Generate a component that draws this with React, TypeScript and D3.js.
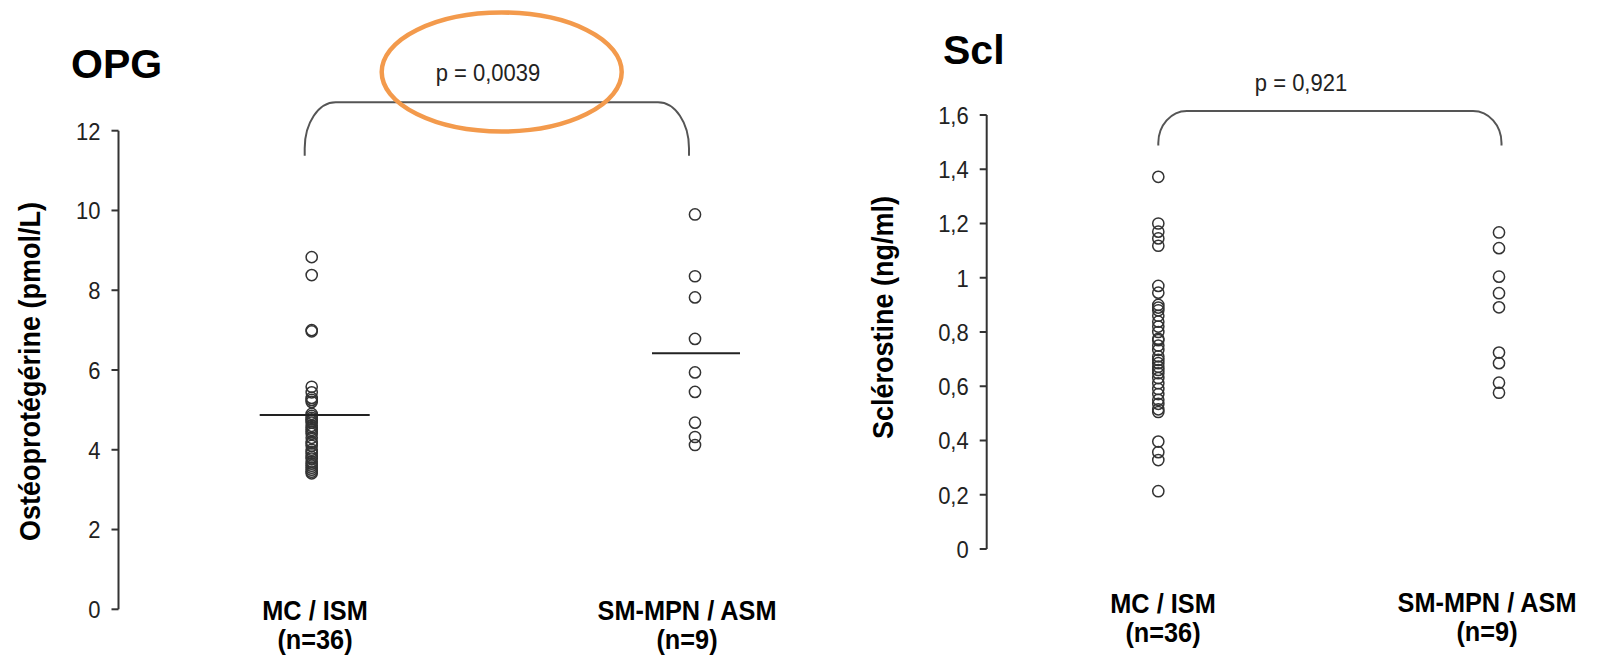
import React from "react";
import * as d3 from "d3";

// ---------- data ----------
const categories = ["MC / ISM", "SM-MPN / ASM"];
const categoryCounts = ["(n=36)", "(n=9)"];

const opgMcIsm = [
  8.83, 8.38, 7.0, 6.97, 5.58, 5.44, 5.3, 5.25, 5.2, 4.9, 4.85, 4.8, 4.76, 4.72,
  4.68, 4.6, 4.55, 4.5, 4.45, 4.4, 4.3, 4.2, 4.16, 4.1, 4.0, 3.95, 3.9, 3.82,
  3.78, 3.7, 3.65, 3.6, 3.55, 3.5, 3.45, 3.41,
];
const opgSmMpn = [9.9, 8.35, 7.82, 6.78, 5.94, 5.45, 4.68, 4.32, 4.12];
const opgMeans = [4.87, 6.42];
const opgTicks = [0, 2, 4, 6, 8, 10, 12];
const opgP = "p = 0,0039";

const sclMcIsm = [
  1.372, 1.2, 1.17, 1.145, 1.118, 0.97, 0.945, 0.9, 0.89, 0.88, 0.86, 0.838,
  0.82, 0.8, 0.775, 0.77, 0.75, 0.734, 0.71, 0.697, 0.685, 0.672, 0.66, 0.648,
  0.63, 0.611, 0.59, 0.571, 0.55, 0.535, 0.515, 0.505, 0.396, 0.357, 0.328,
  0.213,
];
const sclSmMpn = [1.167, 1.109, 1.004, 0.943, 0.891, 0.724, 0.685, 0.613, 0.576];
const sclTicks = [0, 0.2, 0.4, 0.6, 0.8, 1, 1.2, 1.4, 1.6];
const sclP = "p = 0,921";

const fmtComma = (v: number) => String(v).replace(".", ",");

const FONT = "'Liberation Sans', Arial, sans-serif";
const INK = "#222";
const SY = 1.12; // glyphs in the reference are slightly taller than wide

type PanelProps = {
  title: string;
  titleX: number;
  titleY: number;
  yLabel: string;
  yLabelX: number;
  yLabelDy: number;
  axisX: number;
  yDomain: [number, number];
  yRange: [number, number];
  ticks: number[];
  xRange: [number, number];
  groups: number[][];
  means?: number[];
  meanHalf?: [number, number][];
  pText: string;
  pX: number;
  pY: number;
  bracketY: number;
  bracketBottom: number;
  bracketRx: number;
  bracketRy: number;
  bracketDx: [number, number];
  labelCx: number[];
  labelY: number[];
};

function Panel(p: PanelProps) {
  const y = d3.scaleLinear().domain(p.yDomain).range(p.yRange);
  const x = d3.scalePoint<string>().domain(categories).range(p.xRange);
  const x0 = (x(categories[0]) as number) + p.bracketDx[0];
  const x1 = (x(categories[1]) as number) + p.bracketDx[1];
  const by = p.bracketY;
  const arcPath =
    `M${x0},${p.bracketBottom} L${x0},${by + p.bracketRy} ` +
    `A${p.bracketRx},${p.bracketRy} 0 0 1 ${x0 + p.bracketRx},${by} ` +
    `L${x1 - p.bracketRx},${by} ` +
    `A${p.bracketRx},${p.bracketRy} 0 0 1 ${x1},${by + p.bracketRy} ` +
    `L${x1},${p.bracketBottom}`;
  const [yMin, yMax] = p.yDomain;
  const midY = (y(yMin) + y(yMax)) / 2 + p.yLabelDy;
  return (
    <g>
      <text
        x={p.titleX}
        y={p.titleY}
        fontFamily={FONT}
        fontWeight="bold"
        fontSize={41}
        fill="#000"
      >
        {p.title}
      </text>
      <text
        transform={`translate(${p.yLabelX},${midY}) rotate(-90) scale(1,${SY})`}
        textAnchor="middle"
        fontFamily={FONT}
        fontWeight="bold"
        fontSize={27}
        fill="#000"
      >
        {p.yLabel}
      </text>
      {/* axis */}
      <line
        x1={p.axisX}
        x2={p.axisX}
        y1={y(yMin)}
        y2={y(yMax)}
        stroke="#333"
        strokeWidth={2}
      />
      {p.ticks.map((t) => (
        <g key={t}>
          <line
            x1={p.axisX - 7}
            x2={p.axisX}
            y1={y(t)}
            y2={y(t)}
            stroke="#333"
            strokeWidth={2}
          />
          <text
            transform={`translate(${p.axisX - 18},${y(t)}) scale(1,${SY})`}
            dy="0.36em"
            textAnchor="end"
            fontFamily={FONT}
            fontSize={22}
            fill={INK}
          >
            {fmtComma(t)}
          </text>
        </g>
      ))}
      {/* bracket & p */}
      <path d={arcPath} fill="none" stroke="#555" strokeWidth={2} />
      <text
        transform={`translate(${p.pX},${p.pY}) scale(1,${SY})`}
        textAnchor="middle"
        fontFamily={FONT}
        fontSize={22}
        fill={INK}
      >
        {p.pText}
      </text>
      {/* points */}
      {p.groups.map((vals, gi) =>
        vals.map((v, i) => (
          <circle
            key={`${gi}-${i}`}
            cx={x(categories[gi]) as number}
            cy={y(v)}
            r={5.6}
            fill="none"
            stroke="#333"
            strokeWidth={1.5}
          />
        ))
      )}
      {/* mean lines */}
      {p.means &&
        p.means.map((m, gi) => {
          const cx = x(categories[gi]) as number;
          const [l, r] = p.meanHalf![gi];
          return (
            <line
              key={gi}
              x1={cx - l}
              x2={cx + r}
              y1={y(m)}
              y2={y(m)}
              stroke="#222"
              strokeWidth={2}
            />
          );
        })}
      {/* category labels */}
      {categories.map((c, gi) => (
        <g key={c}>
          <text
            transform={`translate(${p.labelCx[gi]},${p.labelY[gi]}) scale(1,${SY})`}
            textAnchor="middle"
            fontFamily={FONT}
            fontWeight="bold"
            fontSize={25.3}
            fill="#000"
          >
            {c}
          </text>
          <text
            transform={`translate(${p.labelCx[gi]},${p.labelY[gi] + 29}) scale(1,${SY})`}
            textAnchor="middle"
            fontFamily={FONT}
            fontWeight="bold"
            fontSize={25.3}
            fill="#000"
          >
            {categoryCounts[gi]}
          </text>
        </g>
      ))}
    </g>
  );
}

export default function App() {
  return (
    <svg
      width={1611}
      height={657}
      style={{ position: "absolute", left: 0, top: 0, background: "#fff" }}
    >
      <rect width={1611} height={657} fill="#fff" />
      <Panel
        title="OPG"
        titleX={71}
        titleY={78}
        yLabel="Ostéoprotégérine (pmol/L)"
        yLabelX={40}
        yLabelDy={1.5}
        axisX={118.5}
        yDomain={[0, 12]}
        yRange={[609.3, 130.7]}
        ticks={opgTicks}
        xRange={[311.7, 695]}
        groups={[opgMcIsm, opgSmMpn]}
        means={opgMeans}
        meanHalf={[
          [52, 58],
          [43, 45],
        ]}
        pText={opgP}
        pX={488}
        pY={81}
        bracketY={102.3}
        bracketBottom={155.7}
        bracketRx={31}
        bracketRy={46}
        bracketDx={[-7, -6]}
        labelCx={[315, 687]}
        labelY={[620, 620]}
      />
      <ellipse
        cx={501.7}
        cy={72}
        rx={120}
        ry={59.5}
        fill="none"
        stroke="#F39A4C"
        strokeWidth={4.5}
      />
      <Panel
        title="Scl"
        titleX={943}
        titleY={64}
        yLabel="Sclérostine (ng/ml)"
        yLabelX={893}
        yLabelDy={-14.5}
        axisX={986.7}
        yDomain={[0, 1.6]}
        yRange={[549, 115]}
        ticks={sclTicks}
        xRange={[1158.3, 1499]}
        groups={[sclMcIsm, sclSmMpn]}
        pText={sclP}
        pX={1301}
        pY={91}
        bracketY={111}
        bracketBottom={145.5}
        bracketRx={28.5}
        bracketRy={32}
        bracketDx={[0, 2.5]}
        labelCx={[1163, 1487]}
        labelY={[613, 612]}
      />
    </svg>
  );
}
